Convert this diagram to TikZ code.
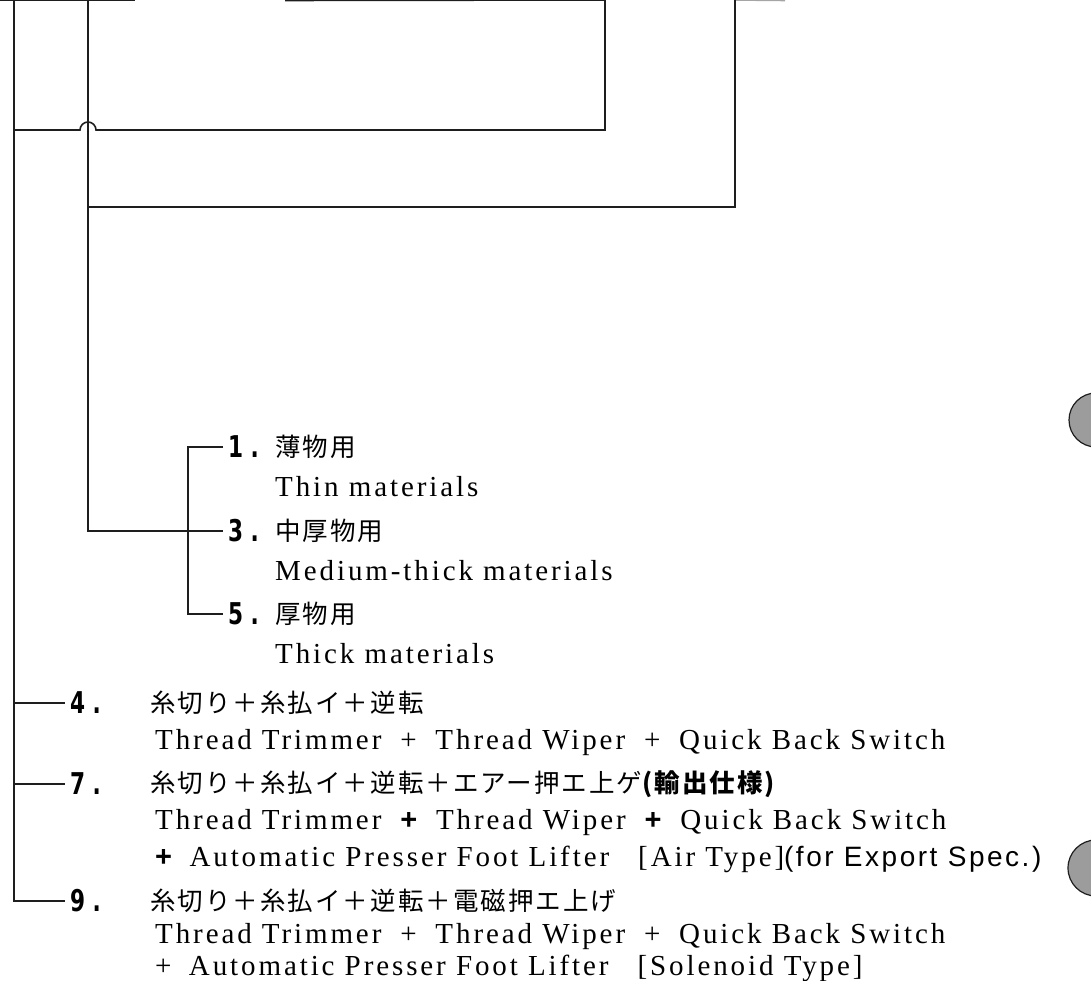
\documentclass[tikz,border=0pt]{standalone}
\usepackage{fontspec}
\setmainfont{Liberation Serif}[LetterSpace=10]
\newfontfamily\jpfont{Noto Sans CJK JP}[LetterSpace=8]
\newfontfamily\numfont{DejaVu Sans}[FakeStretch=0.72]
\newfontfamily\sansfont{Liberation Sans}[LetterSpace=9]
\usepackage{xcolor}
\definecolor{k1}{HTML}{1E1E1E}
\definecolor{g2}{HTML}{9C9C9C}
\newcommand\tplus{\hspace{.65em}+\hspace{.65em}}
\newcommand\bplus{\hspace{.65em}{\sansfont\bfseries+}\hspace{.65em}}
\tikzstyle{wire}=[draw=k1,line width=1.6pt]
\tikzstyle{item no}=[anchor=west,inner xsep=5pt,inner ysep=0pt,font=\numfont\bfseries\fontsize{30}{30}\selectfont]
\tikzstyle{jp text}=[anchor=west,inner sep=0pt,font=\jpfont\fontsize{25.5}{28}\selectfont]
\tikzstyle{en text}=[anchor=west,inner sep=0pt,font=\fontsize{29}{32}\selectfont]
\begin{document}
\begin{tikzpicture}[x=1pt,y=-1pt]
  \useasboundingbox (0,0) rectangle (1091,981);
  \clip (0,0) rectangle (1091,981);
  \coordinate (A) at (14,0);
  \coordinate (B) at (88,0);
  \coordinate (C) at (605,0);
  \coordinate (D) at (735,0);
  % frame cut off at the top edge
  \draw[wire] (0,0.5) -- (135,0.5);
  \draw[wire] (285,0.5) -- (C);
  \draw[wire,draw=k1!40] (D) -- (785,0.5);
  \draw[wire] (A |- 0,130) -- (80,130) arc[start angle=180,end angle=360,radius=8] -- (605,130) -- (C);
  \draw[wire] (B |- 0,207) -- (735,207) -- (D);
  % materials
  \node[item no] (n1) at (223,447) {1\hspace{.25em}.};
  \node[jp text] (j1) at (275,447) {薄物用};
  \node[en text] (e1) at (275,487) {Thin materials};
  \node[item no] (n3) at (223,531) {3\hspace{.25em}.};
  \node[jp text] (j3) at (275,531) {中厚物用};
  \node[en text] (e3) at (275,571) {Medium-thick materials};
  \node[item no] (n5) at (223,614) {5\hspace{.25em}.};
  \node[jp text] (j5) at (275,614) {厚物用};
  \node[en text] (e5) at (275,654) {Thick materials};
  \draw[wire] (B) |- (n3.west);
  \draw[wire] (n1.west) -| (188,531) |- (n5.west);
  % options
  \node[item no] (n4) at (65,703) {4\hspace{.25em}.};
  \node[jp text] (j4) at (150,703) {糸切り＋糸払イ＋逆転};
  \node[en text] (e4) at (155,743) {Thread Trimmer\tplus Thread Wiper\tplus Quick Back Switch};
  \node[item no] (n7) at (65,784) {7\hspace{.25em}.};
  \node[jp text] (j7) at (150,784) {糸切り＋糸払イ＋逆転＋エアー押エ上ゲ{\bfseries(輸出仕様)}};
  \node[en text] (e7) at (155,823) {Thread Trimmer\bplus Thread Wiper\bplus Quick Back Switch};
  \node[en text] (f7) at (155,859) {{\sansfont\bfseries+}\hspace{.6em}Automatic Presser Foot Lifter\hspace{1em}[Air Type]{\sansfont\fontsize{28}{30}\selectfont(for Export Spec.)}};
  \node[item no] (n9) at (65,901) {9\hspace{.25em}.};
  \node[jp text] (j9) at (150,901) {糸切り＋糸払イ＋逆転＋電磁押エ上げ};
  \node[en text] (e9) at (155,937) {Thread Trimmer\tplus Thread Wiper\tplus Quick Back Switch};
  \node[en text] (f9) at (155,968) {+\hspace{.6em}Automatic Presser Foot Lifter\hspace{1em}[Solenoid Type]};
  \draw[wire] (A) |- (n9.west);
  \draw[wire] (A |- n4.west) -- (n4.west);
  \draw[wire] (A |- n7.west) -- (n7.west);
  % punch holes at the right edge
  \draw[fill=g2,draw=k1,line width=1.2pt] (1096,420) circle[radius=27];
  \draw[fill=g2,draw=k1,line width=1.2pt] (1096,868) circle[radius=28];
\end{tikzpicture}
\end{document}
